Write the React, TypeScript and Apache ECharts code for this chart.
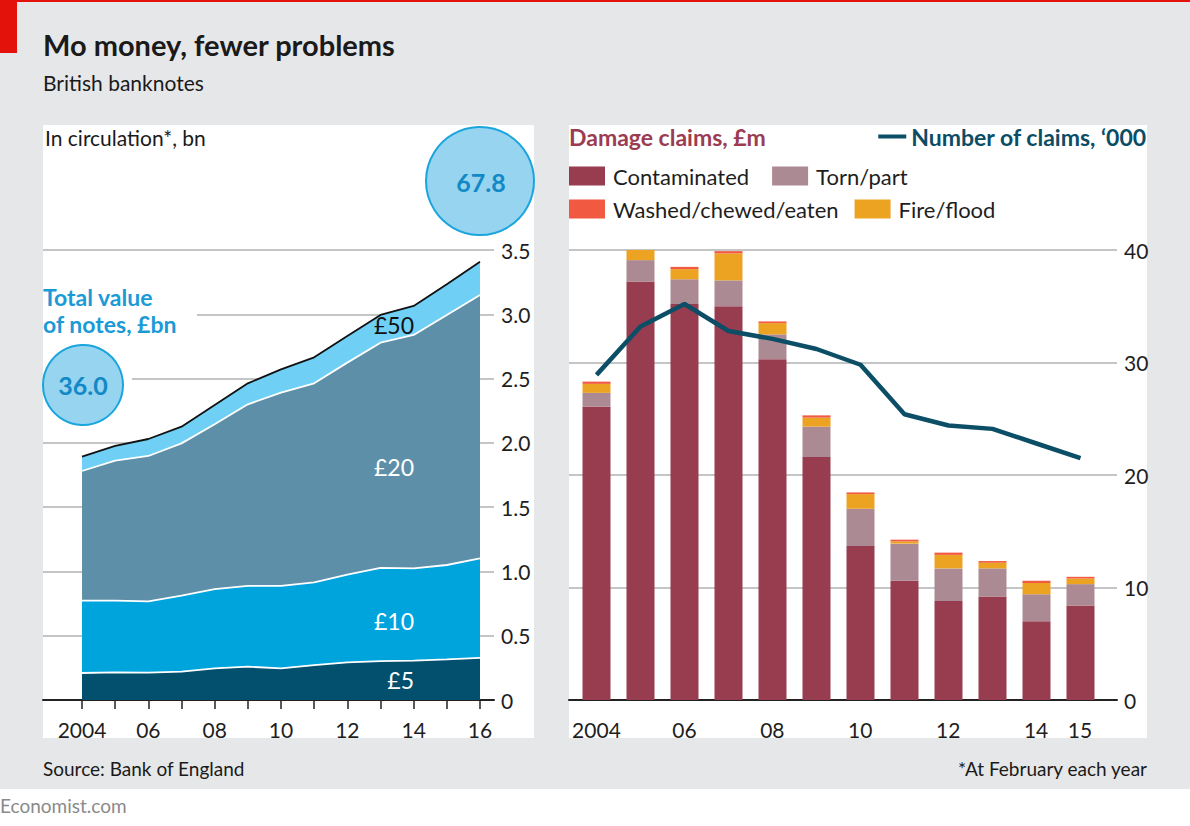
import React, { useEffect, useRef } from "react";
import * as echarts from "echarts";

// ---- Data ----
const noteYears = [2004, 2005, 2006, 2007, 2008, 2009, 2010, 2011, 2012, 2013, 2014, 2015, 2016];
const note5 = [0.21, 0.215, 0.213, 0.22, 0.246, 0.259, 0.246, 0.272, 0.293, 0.303, 0.306, 0.316, 0.327];
const note10 = [0.563, 0.558, 0.554, 0.591, 0.617, 0.628, 0.641, 0.643, 0.682, 0.724, 0.718, 0.734, 0.775];
const note20 = [1.008, 1.089, 1.131, 1.185, 1.281, 1.413, 1.503, 1.548, 1.649, 1.752, 1.815, 1.945, 2.048];
const note50 = [0.112, 0.114, 0.132, 0.13, 0.151, 0.163, 0.182, 0.202, 0.207, 0.216, 0.226, 0.238, 0.259];
const noteLabelYears = [2004, 2006, 2008, 2010, 2012, 2014, 2016];
const noteTicks = [0, 0.5, 1, 1.5, 2, 2.5, 3, 3.5];

const claimYears = [2004, 2005, 2006, 2007, 2008, 2009, 2010, 2011, 2012, 2013, 2014, 2015];
const contaminated = [26.1, 37.2, 35.2, 35.0, 30.3, 21.6, 13.7, 10.6, 8.8, 9.2, 7.0, 8.4];
const tornPart = [1.2, 1.9, 2.2, 2.3, 2.2, 2.7, 3.3, 3.3, 2.9, 2.5, 2.4, 1.9];
const fireFlood = [0.8, 1.0, 0.9, 2.4, 1.0, 0.8, 1.3, 0.2, 1.2, 0.5, 1.0, 0.5];
const washed = [0.2, 0.15, 0.2, 0.2, 0.15, 0.2, 0.15, 0.15, 0.2, 0.15, 0.2, 0.15];
const numClaims = [28.9, 33.2, 35.2, 32.8, 32.1, 31.2, 29.8, 25.4, 24.4, 24.1, 22.8, 21.5];
const claimLabelYears = [2004, 2006, 2008, 2010, 2012, 2014, 2015];

const bubbleStart = "36.0";
const bubbleEnd = "67.8";

const FONT = "Lato, 'Noto Sans', sans-serif";
const DARK = "#1e1e1e";

const yearFmt = (v: number) => (v === 2004 ? "2004" : String(v).slice(2));

export default function App() {
  const ref = useRef<HTMLDivElement>(null);

  useEffect(() => {
    if (!ref.current) return;
    const chart = echarts.init(ref.current, null, { renderer: "svg" });

    const areaSeries = (name: string, data: number[], color: string, lineColor: string) => ({
      name,
      type: "line",
      xAxisIndex: 1,
      yAxisIndex: 1,
      stack: "notes",
      data,
      symbol: "none",
      lineStyle: { color: lineColor, width: 1.8 },
      areaStyle: { color, opacity: 1 },
      itemStyle: { color },
      z: 2,
    });

    const barSeries = (name: string, data: number[], color: string) => ({
      name,
      type: "bar",
      xAxisIndex: 3,
      yAxisIndex: 3,
      stack: "claims",
      barWidth: 28,
      data,
      itemStyle: { color },
      z: 2,
    });

    const labelStyle = { fontFamily: FONT, fontSize: 21, color: DARK };
    const hiddenAxis = { show: false };

    const option: any = {
      animation: false,
      backgroundColor: "transparent",
      textStyle: { fontFamily: FONT },
      grid: [
        // decoration grids (gridlines, baseline, labels)
        { left: 43, right: 1190 - 494, top: 250, bottom: 126 },
        // data grid, left panel
        { left: 82, right: 1190 - 480, top: 250, bottom: 126 },
        { left: 569, right: 1190 - 1117, top: 250, bottom: 126 },
        // data grid, right panel
        { left: 574.5, right: 1190 - 1102.5, top: 250, bottom: 126 },
      ],
      xAxis: [
        {
          type: "value",
          gridIndex: 0,
          min: 2002.824,
          max: 2016.422,
          axisLine: { show: true, onZero: false, lineStyle: { color: "#222", width: 2 } },
          axisTick: { show: true, customValues: noteYears, length: 9, lineStyle: { color: "#222", width: 1.5 } },
          axisLabel: { customValues: noteLabelYears, formatter: yearFmt, margin: 19, ...labelStyle },
          splitLine: { show: false },
        },
        {
          type: "category",
          gridIndex: 1,
          data: noteYears,
          boundaryGap: false,
          ...hiddenAxis,
        },
        {
          type: "value",
          gridIndex: 2,
          min: 2003.375,
          max: 2015.841,
          axisLine: { show: true, onZero: false, lineStyle: { color: "#222", width: 2 } },
          axisTick: { show: false },
          axisLabel: { customValues: claimLabelYears, formatter: yearFmt, margin: 19, ...labelStyle },
          splitLine: { show: false },
        },
        {
          type: "category",
          gridIndex: 3,
          data: claimYears,
          boundaryGap: true,
          ...hiddenAxis,
        },
      ],
      yAxis: [
        {
          type: "value",
          gridIndex: 0,
          position: "right",
          min: 0,
          max: 3.5,
          interval: 0.5,
          axisLine: { show: false },
          axisTick: { show: false },
          axisLabel: {
            customValues: noteTicks,
            formatter: (v: number) => (v === 0 ? "0" : v.toFixed(1)),
            margin: 7,
            ...labelStyle,
          },
          splitLine: { show: true, lineStyle: { color: "#c4c5c7", width: 2 } },
        },
        { type: "value", gridIndex: 1, min: 0, max: 3.5, ...hiddenAxis },
        {
          type: "value",
          gridIndex: 2,
          position: "right",
          min: 0,
          max: 40,
          interval: 10,
          axisLine: { show: false },
          axisTick: { show: false },
          axisLabel: { margin: 7, ...labelStyle },
          splitLine: { show: true, lineStyle: { color: "#c4c5c7", width: 2 } },
        },
        { type: "value", gridIndex: 3, min: 0, max: 40, ...hiddenAxis },
      ],
      legend: [
        {
          data: ["Contaminated", "Torn/part"],
          left: 569,
          top: 165,
          padding: 0,
          itemWidth: 36,
          itemHeight: 19,
          itemGap: 23,
          icon: "rect",
          selectedMode: false,
          textStyle: { fontFamily: FONT, fontSize: 22, color: DARK, padding: [0, 0, 0, 3] },
        },
        {
          data: ["Washed/chewed/eaten", "Fire/flood"],
          left: 569,
          top: 198,
          padding: 0,
          itemWidth: 36,
          itemHeight: 19,
          itemGap: 16,
          icon: "rect",
          selectedMode: false,
          textStyle: { fontFamily: FONT, fontSize: 22, color: DARK, padding: [0, 0, 0, 3] },
        },
        {
          data: [{ name: "Number of claims, ‘000", icon: "rect" }],
          right: 43,
          top: 125,
          padding: 0,
          itemWidth: 28,
          itemHeight: 4,
          selectedMode: false,
          textStyle: { fontFamily: FONT, fontSize: 23, fontWeight: "bold", color: "#0c4d66" },
        },
      ],
      series: [
        areaSeries("£5", note5, "#03506e", "#ffffff"),
        areaSeries("£10", note10, "#00a4dc", "#ffffff"),
        areaSeries("£20", note20, "#5e8fa8", "#ffffff"),
        areaSeries("£50", note50, "#6fcff5", "#111111"),
        barSeries("Contaminated", contaminated, "#983c4f"),
        barSeries("Torn/part", tornPart, "#ac8a93"),
        barSeries("Fire/flood", fireFlood, "#eca322"),
        barSeries("Washed/chewed/eaten", washed, "#f15a40"),
        {
          name: "Number of claims, ‘000",
          type: "line",
          xAxisIndex: 3,
          yAxisIndex: 3,
          data: numClaims,
          symbol: "none",
          lineStyle: { color: "#0b4e66", width: 4.5 },
          itemStyle: { color: "#0b4e66" },
          z: 5,
        },
      ],
      graphic: [
        // red marks
        { type: "rect", z: 1, shape: { x: 0, y: 0, width: 1190, height: 2 }, style: { fill: "#e3120b" } },
        { type: "rect", z: 1, shape: { x: 0, y: 0, width: 17, height: 53 }, style: { fill: "#e3120b" } },
        // title texts
        {
          type: "text", z: 20, x: 43, y: 44,
          style: { text: "Mo money, fewer problems", fontFamily: FONT, fontSize: 29, fontWeight: "bold", fill: "#1a1a1a", verticalAlign: "middle" },
        },
        {
          type: "text", z: 20, x: 43, y: 82,
          style: { text: "British banknotes", fontFamily: FONT, fontSize: 21, fill: "#1a1a1a", verticalAlign: "middle" },
        },
        {
          type: "text", z: 20, x: 45, y: 137,
          style: { text: "In circulation*, bn", fontFamily: FONT, fontSize: 21, fill: "#1a1a1a", verticalAlign: "middle" },
        },
        {
          type: "text", z: 20, x: 569, y: 137,
          style: { text: "Damage claims, £m", fontFamily: FONT, fontSize: 23, fontWeight: "bold", fill: "#9b3c52", verticalAlign: "middle" },
        },
        // masks for partial gridlines
        { type: "rect", z: 10, shape: { x: 43, y: 308, width: 154, height: 12 }, style: { fill: "#ffffff" } },
        { type: "rect", z: 10, shape: { x: 43, y: 372, width: 89, height: 13 }, style: { fill: "#ffffff" } },
        // left annotations
        {
          type: "text", z: 20, x: 43, y: 297,
          style: { text: "Total value", fontFamily: FONT, fontSize: 23, fontWeight: "bold", fill: "#1b9ad6", verticalAlign: "middle" },
        },
        {
          type: "text", z: 20, x: 43, y: 324,
          style: { text: "of notes, £bn", fontFamily: FONT, fontSize: 23, fontWeight: "bold", fill: "#1b9ad6", verticalAlign: "middle" },
        },
        {
          type: "circle", z: 11, shape: { cx: 83, cy: 385, r: 40 },
          style: { fill: "#96d4f0", stroke: "#1aa5dd", lineWidth: 2 },
        },
        {
          type: "text", z: 20, x: 83, y: 385,
          style: { text: bubbleStart, fontFamily: FONT, fontSize: 25, fontWeight: "bold", fill: "#1289c6", align: "center", verticalAlign: "middle" },
        },
        {
          type: "circle", z: 11, shape: { cx: 480, cy: 181, r: 54 },
          style: { fill: "#96d4f0", stroke: "#1aa5dd", lineWidth: 2 },
        },
        {
          type: "text", z: 20, x: 481, y: 182,
          style: { text: bubbleEnd, fontFamily: FONT, fontSize: 25, fontWeight: "bold", fill: "#1289c6", align: "center", verticalAlign: "middle" },
        },
        // area labels
        {
          type: "text", z: 20, x: 414, y: 325,
          style: { text: "£50", fontFamily: FONT, fontSize: 23, fill: "#111111", align: "right", verticalAlign: "middle" },
        },
        {
          type: "text", z: 20, x: 414, y: 467,
          style: { text: "£20", fontFamily: FONT, fontSize: 23, fill: "#ffffff", align: "right", verticalAlign: "middle" },
        },
        {
          type: "text", z: 20, x: 414, y: 621,
          style: { text: "£10", fontFamily: FONT, fontSize: 23, fill: "#ffffff", align: "right", verticalAlign: "middle" },
        },
        {
          type: "text", z: 20, x: 414, y: 680,
          style: { text: "£5", fontFamily: FONT, fontSize: 23, fill: "#ffffff", align: "right", verticalAlign: "middle" },
        },
        // footers
        {
          type: "text", z: 20, x: 43, y: 768,
          style: { text: "Source: Bank of England", fontFamily: FONT, fontSize: 19, fill: "#1a1a1a", verticalAlign: "middle" },
        },
        {
          type: "text", z: 20, x: 1147, y: 768,
          style: { text: "*At February each year", fontFamily: FONT, fontSize: 19, fill: "#1a1a1a", align: "right", verticalAlign: "middle" },
        },
        {
          type: "text", z: 20, x: 0, y: 805,
          style: { text: "Economist.com", fontFamily: FONT, fontSize: 19, fill: "#8a8a8a", verticalAlign: "middle" },
        },
      ],
    };

    chart.setOption(option);
    return () => chart.dispose();
  }, []);

  return (
    <div style={{ position: "absolute", left: 0, top: 0, width: 1190, height: 826, background: "#ffffff" }}>
      <div style={{ position: "absolute", left: 0, top: 0, width: 1190, height: 789, background: "#e6e7e9" }} />
      <div style={{ position: "absolute", left: 43, top: 125, width: 491, height: 613, background: "#ffffff" }} />
      <div style={{ position: "absolute", left: 569, top: 125, width: 578, height: 613, background: "#ffffff" }} />
      <div ref={ref} style={{ position: "absolute", left: 0, top: 0, width: 1190, height: 826 }} />
    </div>
  );
}
